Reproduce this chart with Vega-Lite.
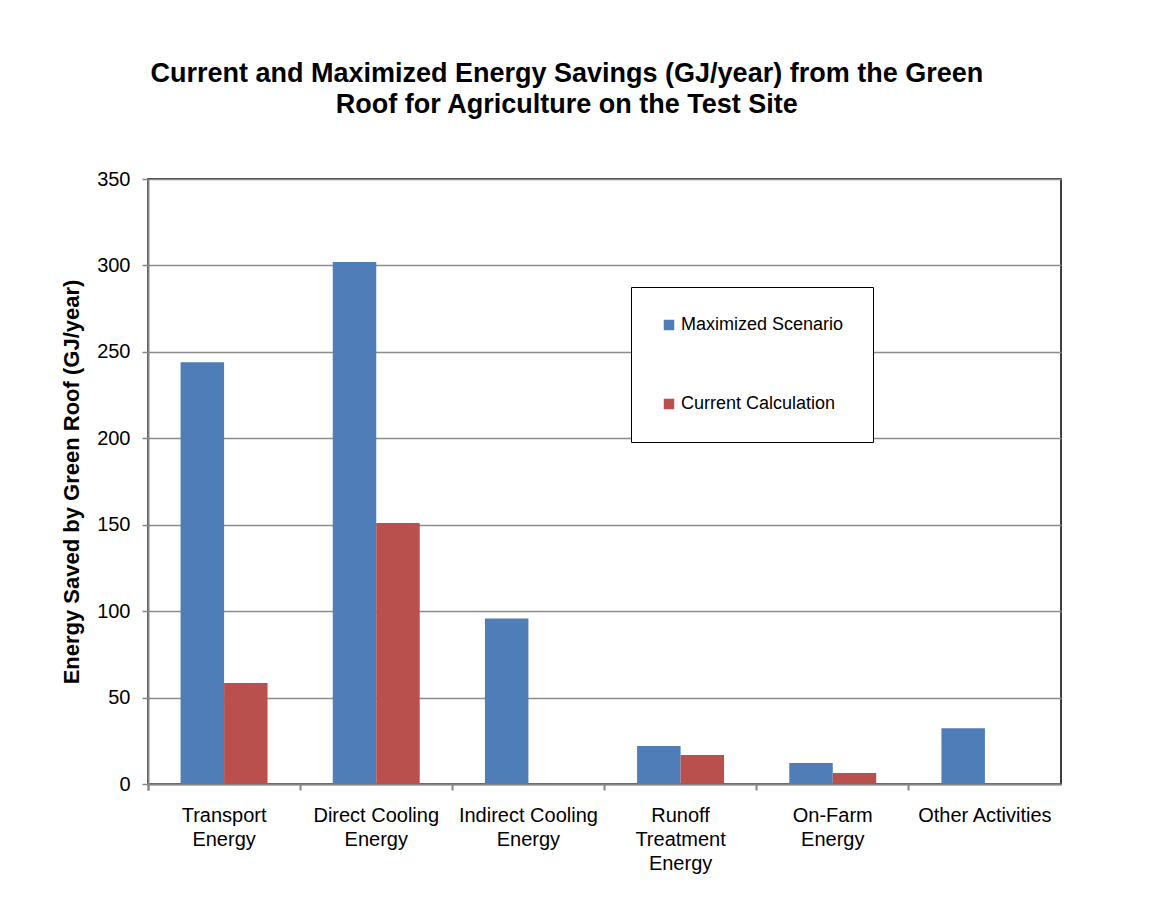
{
  "$schema": "https://vega.github.io/schema/vega-lite/v6.json",
  "width": 913,
  "height": 605,
  "autosize": {"type": "none"},
  "padding": {"left": 148, "top": 179, "right": 90, "bottom": 116},
  "background": "white",
  "title": {
    "text": ["Current and Maximized Energy Savings (GJ/year) from the Green", "Roof for Agriculture on the Test Site"],
    "font": "Liberation Sans",
    "fontSize": 27,
    "fontWeight": "bold",
    "color": "black",
    "lineHeight": 31,
    "anchor": "middle",
    "frame": "bounds",
    "offset": 50,
    "dx": 6
  },
  "data": {
    "values": [
      {"category": "Transport Energy", "scenario": "Maximized Scenario", "value": 244},
      {"category": "Transport Energy", "scenario": "Current Calculation", "value": 58.5},
      {"category": "Direct Cooling Energy", "scenario": "Maximized Scenario", "value": 302},
      {"category": "Direct Cooling Energy", "scenario": "Current Calculation", "value": 151},
      {"category": "Indirect Cooling Energy", "scenario": "Maximized Scenario", "value": 95.8},
      {"category": "Indirect Cooling Energy", "scenario": "Current Calculation", "value": 0},
      {"category": "Runoff Treatment Energy", "scenario": "Maximized Scenario", "value": 22},
      {"category": "Runoff Treatment Energy", "scenario": "Current Calculation", "value": 16.8},
      {"category": "On-Farm Energy", "scenario": "Maximized Scenario", "value": 12.1},
      {"category": "On-Farm Energy", "scenario": "Current Calculation", "value": 6.3},
      {"category": "Other Activities", "scenario": "Maximized Scenario", "value": 32.2},
      {"category": "Other Activities", "scenario": "Current Calculation", "value": 0}
    ]
  },
  "mark": {"type": "bar"},
  "encoding": {
    "x": {
      "field": "category",
      "type": "nominal",
      "sort": ["Transport Energy", "Direct Cooling Energy", "Indirect Cooling Energy", "Runoff Treatment Energy", "On-Farm Energy", "Other Activities"],
      "scale": {"paddingInner": 0, "paddingOuter": 0},
      "axis": {
        "title": null,
        "labelAngle": 0,
        "bandPosition": 0,
        "tickExtra": true,
        "tickSize": 6,
        "tickColor": "#868686",
        "tickWidth": 2,
        "domainColor": "#868686",
        "domainWidth": 2,
        "labelFont": "Liberation Sans",
        "labelFontSize": 20,
        "labelColor": "black",
        "labelLineHeight": 24,
        "labelPadding": 15,
        "labelLimit": 0,
        "labelExpr": "{'Transport Energy': ['Transport', 'Energy'], 'Direct Cooling Energy': ['Direct Cooling', 'Energy'], 'Indirect Cooling Energy': ['Indirect Cooling', 'Energy'], 'Runoff Treatment Energy': ['Runoff', 'Treatment', 'Energy'], 'On-Farm Energy': ['On-Farm', 'Energy'], 'Other Activities': 'Other Activities'}[datum.value]"
      }
    },
    "xOffset": {
      "field": "scenario",
      "type": "nominal",
      "sort": ["Maximized Scenario", "Current Calculation"],
      "scale": {"paddingInner": 0, "paddingOuter": 0.75}
    },
    "y": {
      "field": "value",
      "type": "quantitative",
      "scale": {"domain": [0, 350], "nice": false},
      "axis": {
        "title": "Energy Saved by Green Roof (GJ/year)",
        "values": [0, 50, 100, 150, 200, 250, 300, 350],
        "titleFont": "Liberation Sans",
        "titleFontSize": 22,
        "titleFontWeight": "bold",
        "titleColor": "black",
        "titlePadding": 13,
        "labelFont": "Liberation Sans",
        "labelFontSize": 20,
        "labelColor": "black",
        "labelPadding": 12,
        "tickSize": 6,
        "tickColor": "#868686",
        "tickWidth": 1.5,
        "domainColor": "#868686",
        "domainWidth": 2,
        "grid": true,
        "gridColor": "#8c8c8c",
        "gridWidth": 1.3
      }
    },
    "color": {
      "field": "scenario",
      "type": "nominal",
      "scale": {"domain": ["Maximized Scenario", "Current Calculation"], "range": ["#4F7DB7", "#BA504D"]},
      "legend": {
        "title": null,
        "orient": "none",
        "legendX": 483,
        "legendY": 108,
        "strokeColor": "black",
        "fillColor": "white",
        "padding": 29,
        "symbolType": "square",
        "symbolSize": 110,
        "symbolStrokeWidth": 0,
        "symbolOpacity": 1,
        "labelFont": "Liberation Sans",
        "labelFontSize": 18,
        "labelColor": "black",
        "labelOffset": 3,
        "rowPadding": 61,
        "labelLimit": 0
      }
    }
  },
  "config": {
    "view": {"stroke": "black", "strokeWidth": 1.5}
  }
}
